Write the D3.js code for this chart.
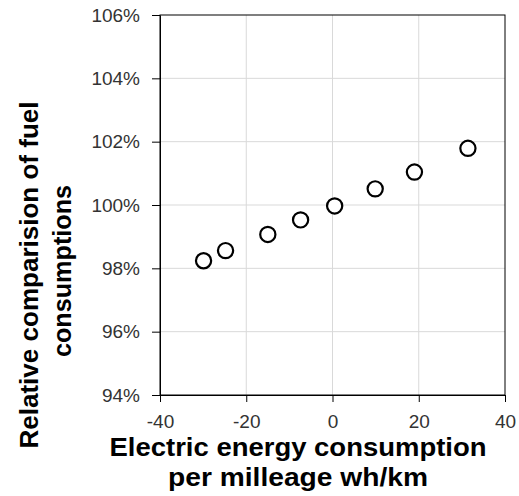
<!DOCTYPE html>
<html>
<head>
<meta charset="utf-8">
<script src="https://cdn.jsdelivr.net/npm/d3@7"></script>
<style>
  body { margin: 0; background: #fff; }
  .tick text { font-family: "Liberation Sans", Arial, sans-serif; font-size: 19px; fill: #333; }
  .title { font-family: "Liberation Sans", Arial, sans-serif; font-weight: bold; fill: #000; }
</style>
</head>
<body>
<div id="chart"></div>
<script>
// Data
//-------------------------------------------------------
var energyValues = [-29.9, -24.8, -15.0, -7.4, 0.5, 9.9, 19.0, 31.4];
var fuelValues = [0.9824, 0.9856, 0.9907, 0.9953, 0.9997, 1.0051, 1.0104, 1.0179];
var xTicks = [-40, -20, 0, 20, 40];
var yTicks = [0.94, 0.96, 0.98, 1.00, 1.02, 1.04, 1.06];

// SVG
//-------------------------------------------------------
var svgWidth = 519;
var svgHeight = 496;

var margin = { top: 15, right: 14, bottom: 101, left: 160 };
var chartWidth = svgWidth - margin.left - margin.right;
var chartHeight = svgHeight - margin.top - margin.bottom;

var svg = d3.select("#chart")
    .append("svg")
    .attr("width", svgWidth)
    .attr("height", svgHeight);

var chartGroup = svg.append("g")
    .attr("transform", `translate(${margin.left}, ${margin.top})`);

// Scales
var xScale = d3.scaleLinear().domain([-40, 40]).range([0, chartWidth]);
var yScale = d3.scaleLinear().domain([0.94, 1.06]).range([chartHeight, 0]);

// Gridlines
chartGroup.append("g").selectAll("line").data(xTicks.slice(1, -1))
    .enter().append("line")
    .attr("x1", d => xScale(d)).attr("x2", d => xScale(d))
    .attr("y1", 0).attr("y2", chartHeight)
    .attr("stroke", "#d9d9d9").attr("stroke-width", 1);

chartGroup.append("g").selectAll("line").data(yTicks.slice(1, -1))
    .enter().append("line")
    .attr("x1", 0).attr("x2", chartWidth)
    .attr("y1", d => yScale(d)).attr("y2", d => yScale(d))
    .attr("stroke", "#d9d9d9").attr("stroke-width", 1);

// Frame
chartGroup.append("rect")
    .attr("width", chartWidth).attr("height", chartHeight)
    .attr("fill", "none").attr("stroke", "#000").attr("stroke-width", 1);

// Axes
var bottomAxis = d3.axisBottom(xScale).tickValues(xTicks).tickFormat(d => String(d))
    .tickSize(7).tickSizeOuter(0).tickPadding(13);
var leftAxis = d3.axisLeft(yScale).tickValues(yTicks).tickFormat(d3.format(".0%"))
    .tickSize(8).tickSizeOuter(0).tickPadding(12);

var xAxis = chartGroup.append("g")
    .attr("transform", `translate(0, ${chartHeight})`)
    .call(bottomAxis);
var yAxis = chartGroup.append("g").call(leftAxis);

chartGroup.selectAll(".domain").attr("stroke", "#000");
chartGroup.selectAll(".tick line").attr("stroke", "#000");

// Points
chartGroup.selectAll("circle.pt").data(energyValues)
    .enter()
    .append("circle")
    .attr("class", "pt")
    .attr("cx", d => xScale(d))
    .attr("cy", (d, i) => yScale(fuelValues[i]))
    .attr("r", 7.6)
    .attr("fill", "#fff")
    .attr("stroke", "#000")
    .attr("stroke-width", 2.2);

// Axis titles
svg.append("text").attr("class", "title")
    .attr("x", 298).attr("y", 456)
    .attr("text-anchor", "middle").attr("font-size", 25)
    .attr("textLength", 377).attr("lengthAdjust", "spacingAndGlyphs")
    .text("Electric energy consumption");
svg.append("text").attr("class", "title")
    .attr("x", 298).attr("y", 486)
    .attr("text-anchor", "middle").attr("font-size", 25)
    .attr("textLength", 260).attr("lengthAdjust", "spacingAndGlyphs")
    .text("per milleage wh/km");

svg.append("text").attr("class", "title")
    .attr("transform", "translate(38, 275) rotate(-90)")
    .attr("text-anchor", "middle").attr("font-size", 26)
    .attr("textLength", 347).attr("lengthAdjust", "spacingAndGlyphs")
    .text("Relative comparision of fuel");
svg.append("text").attr("class", "title")
    .attr("transform", "translate(71, 271) rotate(-90)")
    .attr("text-anchor", "middle").attr("font-size", 26)
    .attr("textLength", 172).attr("lengthAdjust", "spacingAndGlyphs")
    .text("consumptions");
</script>
</body>
</html>
